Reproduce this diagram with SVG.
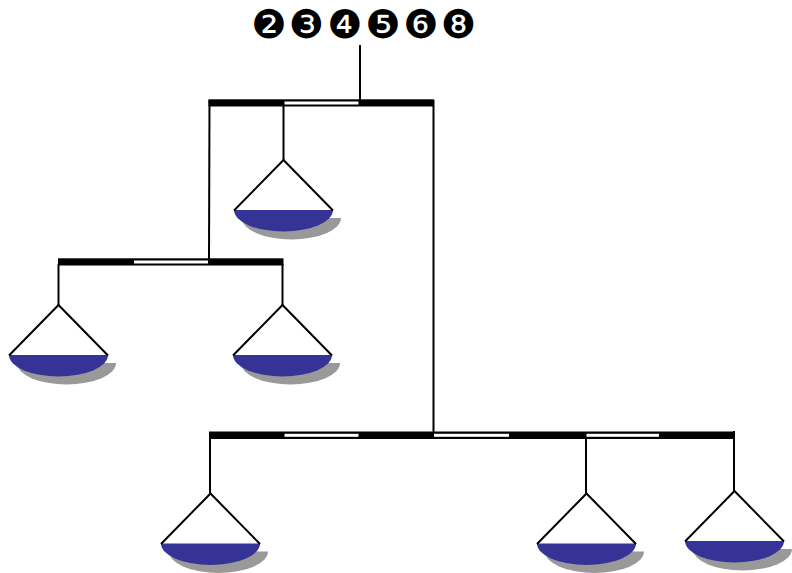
<svg xmlns="http://www.w3.org/2000/svg" xmlns:xlink="http://www.w3.org/1999/xlink" width="792" height="573" viewBox="0 0 792 573">
<style>
.wire{fill:none;stroke:#000;stroke-width:2}
.beam{fill:#000}
.gap{fill:#fff}
.bowl{fill:#363397}
.shadow{fill:#999}
.label{font-family:"DejaVu Sans",sans-serif;font-size:39.500px;fill:#000;text-anchor:middle}
</style>
<defs>
<g id="pan">
<path class="shadow" d="M-41.500 58H57.500A49.500 21.500 0 0 1 -41.500 58Z"/>
<path class="bowl" d="M-49.500 50H49.500A49.500 21.500 0 0 1 -49.500 50Z"/>
<path class="wire" d="M-49.500 50.500L0 0L49.500 50.500"/>
</g>
</defs>
<rect width="792" height="573" fill="#fff"/>
<g id="labels">
<text class="label" x="269" y="38">❷</text>
<text class="label" x="306.500" y="38">❸</text>
<text class="label" x="345" y="38">❹</text>
<text class="label" x="383" y="38">❺</text>
<text class="label" x="421" y="38">❻</text>
<text class="label" x="458.500" y="38">❽</text>
</g>
<g id="connectors">
<path class="wire" d="M360 45V100"/>
<path class="wire" d="M209.500 100L209 260"/>
<path class="wire" d="M283.500 105V160"/>
<path class="wire" d="M433.500 100V432"/>
<path class="wire" d="M58.500 264V305"/>
<path class="wire" d="M282.500 264V305"/>
<path class="wire" d="M210 438V493"/>
<path class="wire" d="M586 438V493"/>
<path class="wire" d="M734 431V491"/>
</g>
<g id="beam-top">
<rect class="beam" x="208.500" y="99.300" width="225.500" height="7.200"/>
<rect class="gap" x="284.500" y="101.500" width="74" height="3"/>
</g>
<g id="beam-left">
<rect class="beam" x="58" y="258.300" width="225.500" height="7.200"/>
<rect class="gap" x="134" y="260.500" width="74" height="3"/>
</g>
<g id="beam-bottom">
<rect class="beam" x="209" y="431.500" width="526" height="7.500"/>
<rect class="gap" x="284.500" y="433.800" width="74" height="3"/>
<rect class="gap" x="434" y="433.800" width="75" height="3"/>
<rect class="gap" x="586.500" y="433.800" width="72.500" height="3"/>
</g>
<g id="pan-1"><use xlink:href="#pan" href="#pan" x="283.500" y="160"/></g>
<g id="pan-2"><use xlink:href="#pan" href="#pan" x="58.500" y="305"/></g>
<g id="pan-3"><use xlink:href="#pan" href="#pan" x="282.500" y="305"/></g>
<g id="pan-4"><use xlink:href="#pan" href="#pan" x="210.500" y="493.500"/></g>
<g id="pan-5"><use xlink:href="#pan" href="#pan" x="586.500" y="493.500"/></g>
<g id="pan-6"><use xlink:href="#pan" href="#pan" x="734.500" y="491"/></g>
</svg>
